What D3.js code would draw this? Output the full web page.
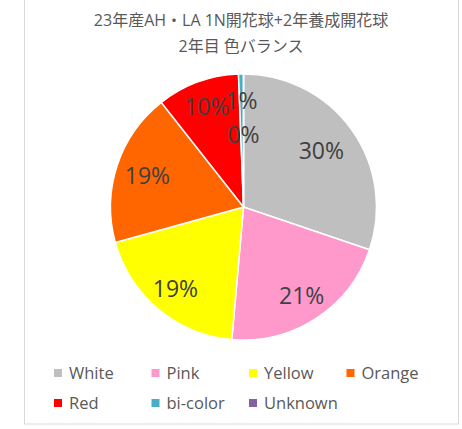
<!DOCTYPE html>
<html>
<head>
<meta charset="utf-8">
<script src="https://cdn.jsdelivr.net/npm/d3@7"></script>
<style>
  body { margin: 0; background: #fff; }
  text { font-family: "Open Sans", "Noto Sans CJK JP", sans-serif; }
</style>
</head>
<body>
<div id="chart"></div>
<script>
// data (percent of bulbs)
const categories = ["White", "Pink", "Yellow", "Orange", "Red", "bi-color", "Unknown"];
const values = [30.2, 21.2, 19.3, 18.7, 10.0, 0.6, 0];
const colors = ["#bfbfbf", "#ff99cc", "#ffff00", "#ff6600", "#ff0000", "#4bacc6", "#8064a2"];
const titleLines = ["23年産AH・LA 1N開花球+2年養成開花球", "2年目 色バランス"];
// how far out each label sits (share of radius), like Excel best fit
const labelPos = [0.72, 0.8, 0.8, 0.76, 0.8, 0.8, 0.54];

var width = 462, height = 429;
var svg = d3.select("#chart").append("svg")
    .attr("width", width)
    .attr("height", height);

// chart area frame
svg.append("rect")
    .attr("x", 24.5).attr("y", -1)
    .attr("width", 434).attr("height", 425)
    .attr("fill", "#fff")
    .attr("stroke", "#d9d9d9");

svg.append("g")
  .selectAll("text")
  .data(titleLines)
  .enter().append("text")
    .attr("x", 241)
    .attr("y", (d, i) => 26 + i * 26)
    .attr("text-anchor", "middle")
    .attr("font-size", 16)
    .attr("fill", "#595959")
    .text(d => d);

var cx = 243.5, cy = 207, r = 133;

var pie = d3.pie().sort(null).value(d => d);
var arcs = pie(values);
var arc = d3.arc().innerRadius(0).outerRadius(r);

var g = svg.append("g").attr("transform", "translate(" + cx + "," + cy + ")");

g.selectAll("path")
    .data(arcs)
    .enter().append("path")
    .attr("d", arc)
    .attr("fill", (d, i) => colors[i])
    .attr("stroke", "#fff")
    .attr("stroke-width", 1.5);

g.selectAll("text.lbl")
    .data(arcs)
    .enter().append("text")
    .attr("class", "lbl")
    .attr("transform", function (d, i) {
        var a = (d.startAngle + d.endAngle) / 2;
        var k = labelPos[i] * r;
        return "translate(" + (Math.sin(a) * k) + "," + (-Math.cos(a) * k) + ")";
    })
    .attr("text-anchor", "middle")
    .attr("dy", "0.35em")
    .attr("font-size", 23)
    .attr("fill", "#404040")
    .text(d => Math.round(d.value) + "%");

// legend, four per row
var legend = svg.append("g")
  .selectAll("g")
  .data(categories)
  .enter().append("g")
    .attr("transform", (d, i) => "translate(" + (54 + (i % 4) * 97.5) + "," + (373 + Math.floor(i / 4) * 30) + ")");

legend.append("rect")
    .attr("x", 0).attr("y", -4)
    .attr("width", 8).attr("height", 8)
    .attr("fill", (d, i) => colors[i]);

legend.append("text")
    .attr("x", 15)
    .attr("dy", "0.35em")
    .attr("font-size", 16.5)
    .attr("fill", "#595959")
    .text(d => d);
</script>
</body>
</html>
